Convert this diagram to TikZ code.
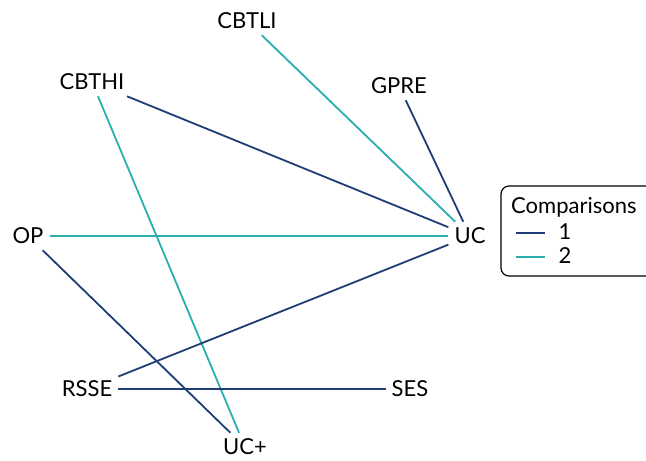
\documentclass[tikz,border=0pt]{standalone}
\usepackage{fontspec}
\setmainfont{Lato}
\usepackage{tikz}
\usetikzlibrary{positioning}

\definecolor{cmpone}{HTML}{1F3E75}
\definecolor{cmptwo}{HTML}{2AAEB0}

\begin{document}
\begin{tikzpicture}[
        x=1pt, y=-1pt,
        lbl/.style={inner sep=6pt, font=\fontsize{22}{24}\selectfont},
        one/.style={draw=cmpone, line width=1.8pt},
        two/.style={draw=cmptwo, line width=1.8pt}
    ]
        \useasboundingbox (0,0) rectangle (646,461);
        \fill[white] (0,0) rectangle (646,461);

        % Treatments
        \node[lbl] (CBTLI) at (247,21) {CBTLI};
        \node[lbl] (GPRE) at (399,86) {GPRE};
        \node[lbl] (CBTHI) at (92,82) {CBTHI};
        \node[lbl] (OP) at (28,236) {OP};
        \node[lbl] (UC) at (470,236) {UC};
        \node[lbl] (RSSE) at (87,389) {RSSE};
        \node[lbl] (SES) at (410,389) {SES};
        \node[lbl] (UCp) at (245,447) {UC+};

        % Comparisons
        \draw[two] (CBTLI) -- (UC);
        \draw[one] (GPRE) -- (UC);
        \draw[one] (CBTHI) -- (UC);
        \draw[two] (CBTHI) -- (UCp);
        \draw[two] (OP) -- (UC);
        \draw[one] (OP) -- (UCp);
        \draw[one] (RSSE) -- (UC);
        \draw[one] (RSSE) -- (SES);

        % Legend
        \draw[line width=1.2pt, rounded corners=8pt] (501,186) rectangle (690,276);
        \node[lbl, inner sep=0pt, anchor=west] (ttl) at (511,207) {Comparisons};
        \coordinate (k1a) at (516,233);
        \coordinate (k1b) at (545,233);
        \coordinate (k2a) at (516,257);
        \coordinate (k2b) at (545,257);
        \draw[one] (k1a) -- (k1b);
        \draw[two] (k2a) -- (k2b);
        \node[lbl, inner sep=0pt] (l1) at (565,232) {1};
        \node[lbl, inner sep=0pt] (l2) at (565,256) {2};
    \end{tikzpicture}
\end{document}
